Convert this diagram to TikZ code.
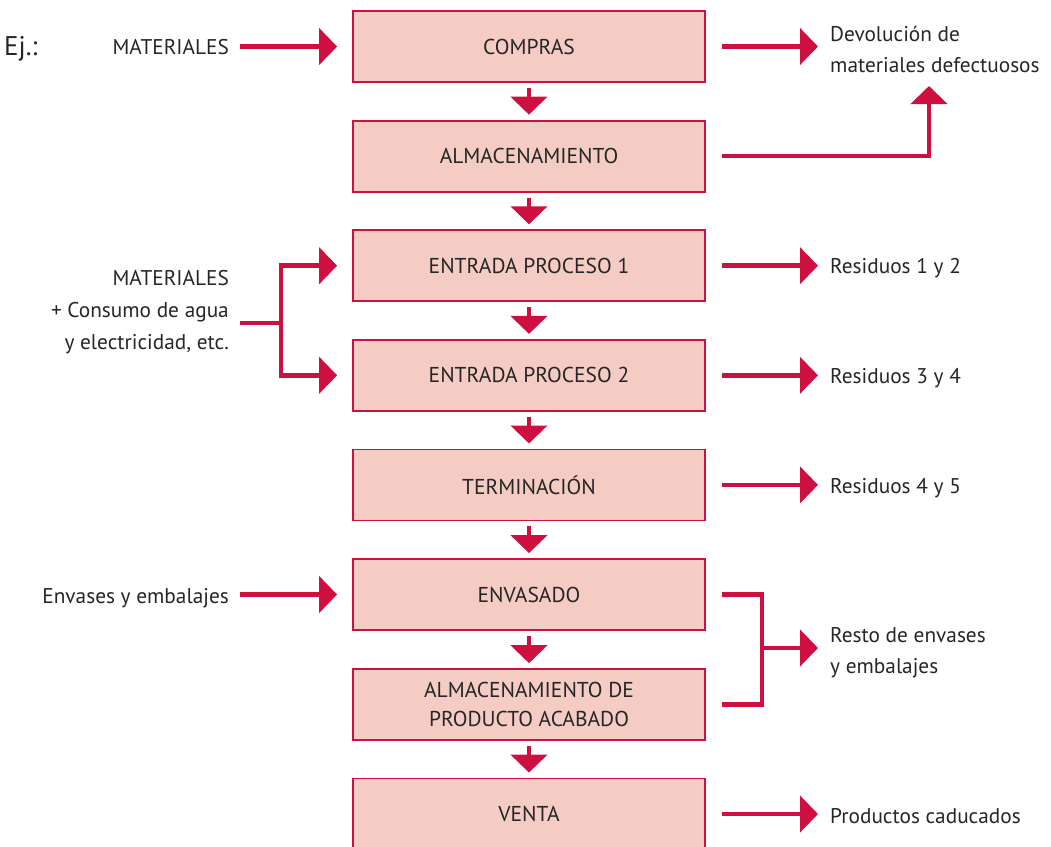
\documentclass[tikz,border=0pt]{standalone}
\usepackage{fontspec}
\setmainfont{PT Sans}
\usetikzlibrary{arrows.meta}
\definecolor{crim}{RGB}{206,16,64}
\definecolor{pinkf}{RGB}{244,204,196}
\definecolor{txt}{RGB}{38,38,38}
\begin{document}
\begin{tikzpicture}[x=1pt,y=-1pt,
 box/.style={draw=crim,fill=pinkf,line width=1.8pt,minimum width=352pt,minimum height=71pt,inner sep=0pt,text=txt,font=\fontsize{21.5}{29}\selectfont,align=center},
 lbl/.style={text=txt,font=\fontsize{21.3}{32}\selectfont,inner sep=0pt},
 arr/.style={draw=crim,line width=4.5pt,-{Triangle[width=36pt,length=18pt]}},
 ln/.style={draw=crim,line width=4.5pt}]
\useasboundingbox (0,0) rectangle (1051,846);
\clip (0,0) rectangle (1051,846);
% boxes
\node[box] (b1) at (529,46.5) {COMPRAS};
\node[box] (b2) at (529,156.1) {ALMACENAMIENTO};
\node[box] (b3) at (529,265.7) {ENTRADA PROCESO 1};
\node[box] (b4) at (529,375.3) {ENTRADA PROCESO 2};
\node[box] (b5) at (529,484.9) {TERMINACIÓN};
\node[box] (b6) at (529,594.5) {ENVASADO};
\node[box] (b7) at (529,704.6) {ALMACENAMIENTO DE\\PRODUCTO ACABADO};
\node[box] (b8) at (529,814) {VENTA};
% texts
\node[lbl,anchor=base west,font=\fontsize{27}{30}\selectfont] (ej) at (4,55) {Ej.:};
\node[lbl,anchor=east] (m1) at (229,47) {MATERIALES};
\node[lbl,anchor=east,align=right] (m2) at (229,312) {MATERIALES\\+ Consumo de agua\\y electricidad, etc.};
\node[lbl,anchor=east] (m3) at (229,598) {Envases y embalajes};
\node[lbl,anchor=west,align=left,font=\fontsize{21.3}{31}\selectfont] (dev) at (830,49) {Devolución de\\materiales defectuosos};
\node[lbl,anchor=west] (r1) at (830,268) {Residuos 1 y 2};
\node[lbl,anchor=west] (r2) at (830,378) {Residuos 3 y 4};
\node[lbl,anchor=west] (r3) at (830,488) {Residuos 4 y 5};
\node[lbl,anchor=west,align=left,font=\fontsize{21.3}{31}\selectfont] (resto) at (830,653) {Resto de envases\\y embalajes};
\node[lbl,anchor=west] (cad) at (830,816) {Productos caducados};
% down arrows
\foreach \a/\b in {b1/b2,b2/b3,b3/b4,b4/b5,b5/b6,b6/b7,b7/b8}
  \draw[arr,shorten <=5pt,shorten >=5pt] (\a.south) -- (\b.north);
% left inputs
\draw[arr,shorten <=11pt,shorten >=15pt] (m1.east |- b1.west) -- (b1.west);
\draw[arr,shorten <=11pt,shorten >=15pt] (m3.east |- b6.west) -- (b6.west);
\coordinate (j1) at (281,323);
\draw[ln,shorten <=11pt] (m2.east |- j1) -- (j1);
\draw[arr,shorten >=15pt] (j1) |- (b3.west);
\draw[arr,shorten >=15pt] (j1) |- (b4.west);
% right outputs
\draw[arr,shorten <=16pt,shorten >=12pt] (b1.east) -- (b1.east -| dev.west);
\coordinate (devin) at (929,86);
\draw[arr,shorten <=16pt] (b2.east) -| (devin);
\draw[arr,shorten <=16pt,shorten >=12pt] (b3.east) -- (b3.east -| r1.west);
\draw[arr,shorten <=16pt,shorten >=12pt] (b4.east) -- (b4.east -| r2.west);
\draw[arr,shorten <=16pt,shorten >=12pt] (b5.east) -- (b5.east -| r3.west);
\draw[arr,shorten <=16pt,shorten >=12pt] (b8.east) -- (b8.east -| cad.west);
\coordinate (k) at (762,648);
\draw[ln] ([xshift=16pt]b6.east) -| (k) |- ([xshift=16pt]b7.east);
\draw[arr,shorten >=12pt] (k) -- (k -| resto.west);
\end{tikzpicture}
\end{document}
